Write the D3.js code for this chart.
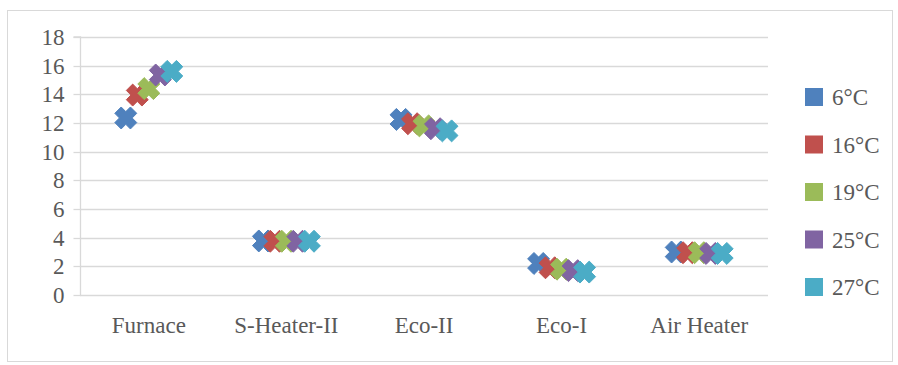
<!DOCTYPE html>
<html>
<head>
<meta charset="utf-8">
<script src="https://cdn.jsdelivr.net/npm/d3@7"></script>
<style>
  body { margin: 0; background: #fff; }
  svg { display: block; }
  text { font-family: "Liberation Serif", "Times New Roman", serif; fill: #595959; }
</style>
</head>
<body>
<svg id="chart" width="898" height="365"></svg>
<script>
const categories = ["Furnace", "S-Heater-II", "Eco-II", "Eco-I", "Air Heater"];
const seriesNames = ["6°C", "16°C", "19°C", "25°C", "27°C"];
const seriesColors = ["#4f81bd", "#c0504d", "#9bbb59", "#8064a2", "#4bacc6"];
const s6  = [12.35, 3.77, 12.25, 2.2, 3.0];
const s16 = [13.95, 3.75, 11.95, 1.9, 2.95];
const s19 = [14.4, 3.75, 11.8, 1.8, 2.95];
const s25 = [15.35, 3.75, 11.6, 1.7, 2.9];
const s27 = [15.6, 3.75, 11.45, 1.6, 2.9];
const seriesValues = [s6, s16, s19, s25, s27];
const yTicks = [0, 2, 4, 6, 8, 10, 12, 14, 16, 18];

const svg = d3.select("#chart");

// chart border
svg.append("rect").attr("x", 7.5).attr("y", 10.5).attr("width", 885).attr("height", 351)
  .attr("fill", "#fff").attr("stroke", "#d9d9d9").attr("stroke-width", 1);

const plotL = 80, plotR = 768, plotT = 37, plotB = 295;
const x = d3.scaleBand().domain(categories).range([plotL, plotR]);
const xOff = d3.scalePoint().domain(seriesNames).range([-23, 23]);
const y = d3.scaleLinear().domain([0, 18]).range([plotB, plotT]);

// gridlines
svg.append("g").selectAll("line").data(yTicks).join("line")
  .attr("x1", plotL).attr("x2", plotR)
  .attr("y1", d => Math.round(y(d)) + 0.5).attr("y2", d => Math.round(y(d)) + 0.5)
  .attr("stroke", "#d9d9d9").attr("stroke-width", 1.3);

// y axis
const yAxis = d3.axisLeft(y).tickValues(yTicks).tickSize(7).tickPadding(9).tickFormat(d3.format("d"));
const gy = svg.append("g").attr("transform", `translate(${plotL + 0.5},0)`).call(yAxis);
gy.attr("font-family", null);
gy.select(".domain").attr("stroke", "#d9d9d9").attr("stroke-width", 1.3).attr("d", `M-7,${y(18)}H0V${plotB + 0.5}`);
gy.selectAll(".tick line").attr("stroke", "#d9d9d9").attr("stroke-width", 1.3);
gy.selectAll(".tick").attr("transform", d => `translate(0,${Math.round(y(d)) + 0.5})`);
gy.selectAll(".tick text").attr("font-size", 23).attr("fill", "#595959");

// x axis labels
const xAxis = d3.axisBottom(x).tickSize(0).tickPadding(22);
const gx = svg.append("g").attr("transform", `translate(0,${plotB})`).call(xAxis);
gx.attr("font-family", null);
gx.select(".domain").remove();
gx.selectAll(".tick text").attr("font-size", 23).attr("fill", "#595959");

// fat X marker (custom symbol type)
const fatX = {
  draw(ctx, size) {
    const r = Math.sqrt(size) * 0.26;   // arm half-thickness
    const L = r * 2.45;                 // arm length from centre
    const c = Math.SQRT1_2;
    const pts = [[-r, -L], [r, -L], [r, -r], [L, -r], [L, r], [r, r], [r, L], [-r, L], [-r, r], [-L, r], [-L, -r], [-r, -r]]
      .map(([a, b]) => [(a - b) * c, (a + b) * c]);
    ctx.moveTo(pts[0][0], pts[0][1]);
    for (let k = 1; k < pts.length; k++) ctx.lineTo(pts[k][0], pts[k][1]);
    ctx.closePath();
  }
};
const marker = d3.symbol().type(fatX).size(300);
seriesNames.forEach((name, si) => {
  svg.append("g").selectAll("path").data(seriesValues[si]).join("path")
    .attr("d", marker)
    .attr("transform", (d, i) => `translate(${x(categories[i]) + x.bandwidth() / 2 + xOff(name)},${y(d)})`)
    .attr("fill", seriesColors[si])
    .attr("stroke", seriesColors[si])
    .attr("stroke-width", 1)
    .attr("stroke-linejoin", "round");
});

// legend
const lg = svg.append("g");
seriesNames.forEach((name, i) => {
  const cy = 97 + i * 47.5;
  lg.append("rect").attr("x", 805).attr("y", cy - 9).attr("width", 18).attr("height", 18)
    .attr("fill", seriesColors[i]);
  lg.append("text").attr("x", 832).attr("y", cy).attr("dy", "0.35em")
    .attr("font-size", 23).text(name);
});
</script>
</body>
</html>
